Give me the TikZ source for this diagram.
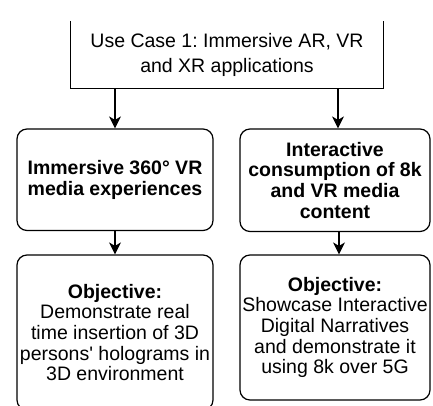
\documentclass[tikz,border=0pt]{standalone}
\usepackage{fontspec}
\setmainfont{Liberation Sans}
\usetikzlibrary{arrows.meta}
\begin{document}
\frenchspacing
\begin{tikzpicture}[x=1pt,y=1pt,
  every node/.style={font=\fontsize{19.5}{20.6}\selectfont, align=center, inner sep=0pt},
  rbox/.style={draw, line width=1.2pt, rounded corners=10pt},
  conn/.style={line width=1.2pt, -{Stealth[length=12pt,width=12pt,inset=3.5pt]}}]
\clip (0,0) rectangle (433,405);
% top box (top edge cut off)
\node (top) [minimum width=312pt, minimum height=67pt,
  font=\fontsize{19.5}{25}\selectfont] at (227,350.5)
  {\raisebox{4pt}{\parbox{310pt}{\centering Use Case 1: Immersive AR, VR\\and XR applications}}};
\draw[line width=1.2pt] (top.north west) -- (top.south west) -- (top.south east) -- (top.north east);
% middle boxes
\node (midL) [rbox, minimum width=196pt, minimum height=101.5pt] at (115,225.25)
  {\bfseries Immersive 360° VR\\\bfseries media experiences};
\node (midR) [rbox, minimum width=190pt, minimum height=102.5pt] at (335,224.75)
  {\bfseries Interactive\\\bfseries consumption of 8k\\\bfseries and VR media\\\bfseries content};
% bottom boxes
\node (botL) [rbox, minimum width=196pt, minimum height=155pt] at (115,72.5)
  {\bfseries Objective:\\Demonstrate real\\time insertion of 3D\\persons\textquotesingle\ holograms in\\3D environment};
\node (botR) [rbox, minimum width=190pt, minimum height=145pt] at (335,77.5)
  {\bfseries Objective:\\Showcase Interactive\\Digital Narratives\\and demonstrate it\\using 8k over 5G};
% connectors
\draw[conn] (top.south -| midL.north) -- (midL.north);
\draw[conn] ([xshift=3pt]top.south -| midR.north) -- ([xshift=3pt]midR.north);
\draw[conn] (midL.south) -- (botL.north);
\draw[conn] ([xshift=4pt]midR.south) -- ([xshift=4pt]botR.north);
\end{tikzpicture}
\end{document}
